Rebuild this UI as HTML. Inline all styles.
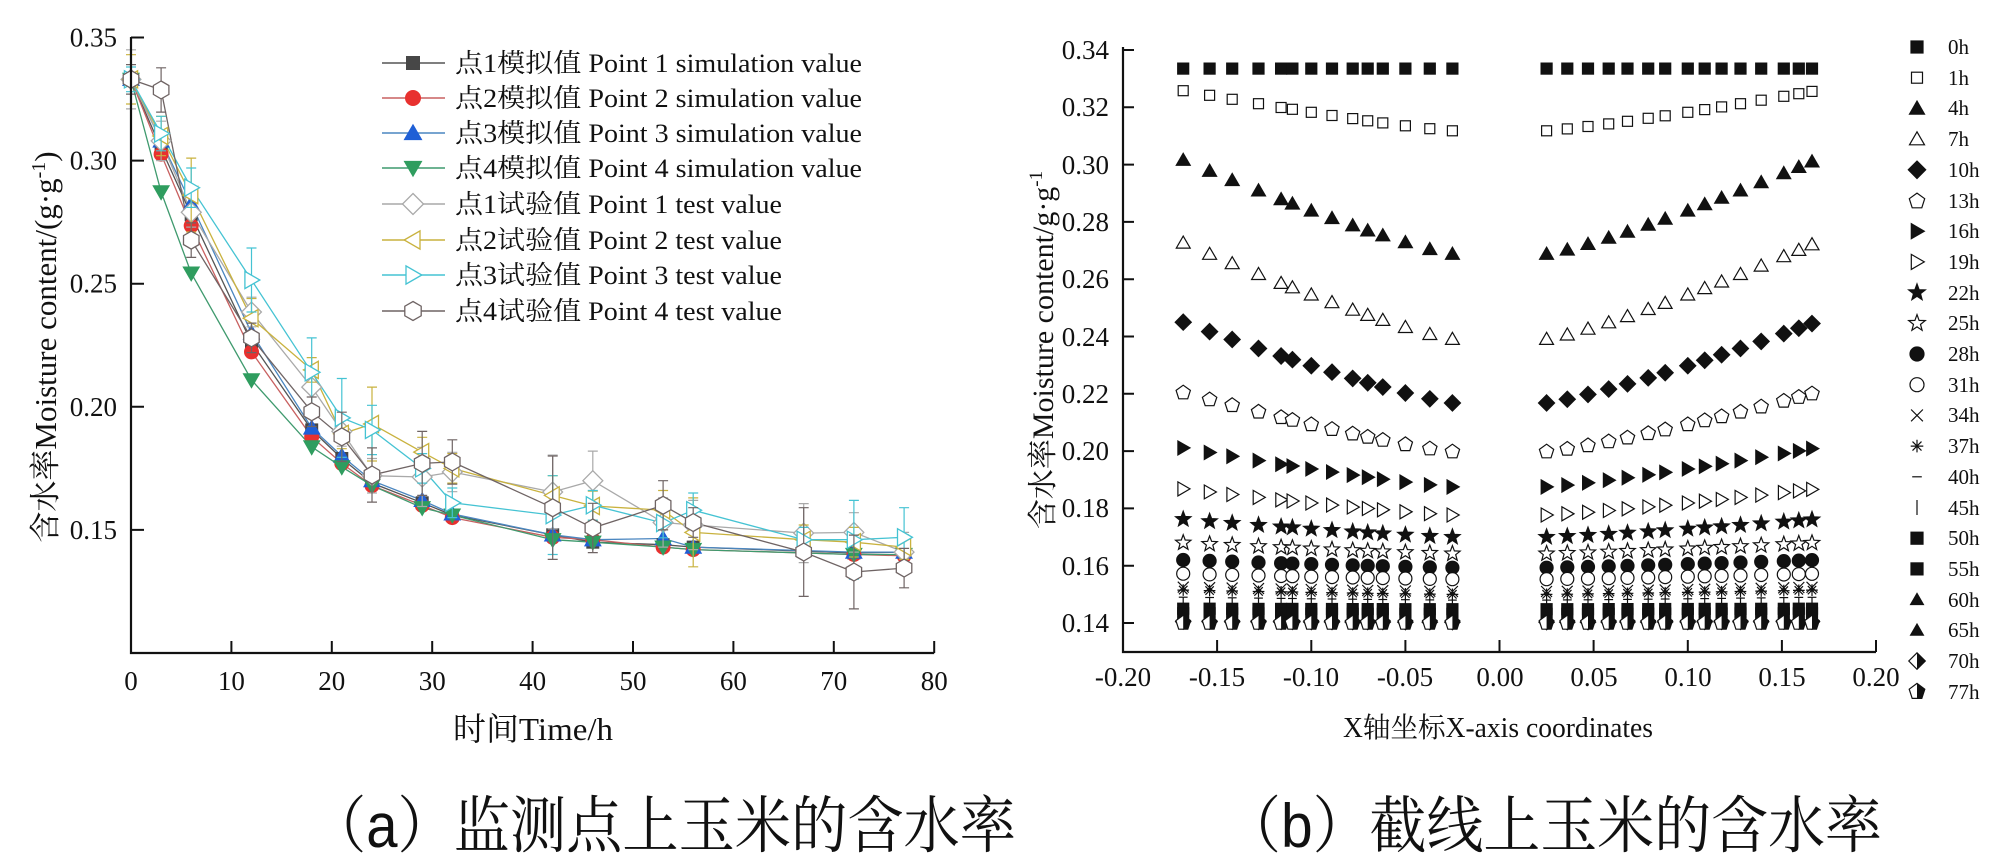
<!DOCTYPE html>
<html><head><meta charset="utf-8">
<style>
html,body{margin:0;padding:0;background:#fff;}
svg{display:block}
text{font-family:"Liberation Serif","Noto Serif CJK SC",serif;fill:#111;}
.cap{font-family:"Liberation Sans","Noto Serif CJK SC",sans-serif;}
</style></head>
<body>
<svg id="c" xmlns="http://www.w3.org/2000/svg" width="2000" height="860" viewBox="0 0 2000 860">
<rect width="2000" height="860" fill="#fff"/>
<g id="plots"></g>

<!-- LEFT CHART AXES -->
<path d="M131 37V653H934.2" fill="none" stroke="#111" stroke-width="2.2"/>
<path d="M131 37.5h13M131 160.6h13M131 283.7h13M131 406.8h13M131 529.9h13" stroke="#111" stroke-width="2"/>
<path d="M231.4 653v-12M331.8 653v-12M432.2 653v-12M532.6 653v-12M633 653v-12M733.4 653v-12M833.8 653v-12M934.2 653v-12" stroke="#111" stroke-width="2"/>
<g font-size="27" text-anchor="end">
<text x="117" y="46.5">0.35</text>
<text x="117" y="169.6">0.30</text>
<text x="117" y="292.7">0.25</text>
<text x="117" y="415.8">0.20</text>
<text x="117" y="538.9">0.15</text>
</g>
<g font-size="27" text-anchor="middle">
<text x="131" y="690">0</text>
<text x="231.4" y="690">10</text>
<text x="331.8" y="690">20</text>
<text x="432.2" y="690">30</text>
<text x="532.6" y="690">40</text>
<text x="633" y="690">50</text>
<text x="733.4" y="690">60</text>
<text x="833.8" y="690">70</text>
<text x="934.2" y="690">80</text>
</g>
<text x="453" y="740" font-size="32" textLength="160" lengthAdjust="spacingAndGlyphs">时间Time/h</text>
<text transform="translate(56,347) rotate(-90)" text-anchor="middle" font-size="31">含水率Moisture content/(g·g<tspan dy="-11" font-size="20">-1</tspan><tspan dy="11">)</tspan></text>

<!-- LEFT LEGEND TEXT -->
<g font-size="26">
<text x="455" y="72" textLength="407" lengthAdjust="spacingAndGlyphs">点1模拟值 Point 1 simulation value</text>
<text x="455" y="107" textLength="407" lengthAdjust="spacingAndGlyphs">点2模拟值 Point 2 simulation value</text>
<text x="455" y="142" textLength="407" lengthAdjust="spacingAndGlyphs">点3模拟值 Point 3 simulation value</text>
<text x="455" y="177" textLength="407" lengthAdjust="spacingAndGlyphs">点4模拟值 Point 4 simulation value</text>
<text x="455" y="213" textLength="327" lengthAdjust="spacingAndGlyphs">点1试验值 Point 1 test value</text>
<text x="455" y="249" textLength="327" lengthAdjust="spacingAndGlyphs">点2试验值 Point 2 test value</text>
<text x="455" y="284" textLength="327" lengthAdjust="spacingAndGlyphs">点3试验值 Point 3 test value</text>
<text x="455" y="320" textLength="327" lengthAdjust="spacingAndGlyphs">点4试验值 Point 4 test value</text>
</g>

<!-- RIGHT CHART AXES -->
<path d="M1123 47V652H1876" fill="none" stroke="#111" stroke-width="2.2"/>
<path d="M1123 50h11M1123 107.3h11M1123 164.6h11M1123 221.9h11M1123 279.2h11M1123 336.5h11M1123 393.8h11M1123 451.1h11M1123 508.4h11M1123 565.7h11M1123 623h11" stroke="#111" stroke-width="2"/>
<path d="M1217.1 652v-12M1311.3 652v-12M1405.4 652v-12M1499.5 652v-12M1593.6 652v-12M1687.8 652v-12M1781.9 652v-12M1876 652v-12" stroke="#111" stroke-width="2"/>
<g font-size="27" text-anchor="end">
<text x="1109" y="59">0.34</text>
<text x="1109" y="116">0.32</text>
<text x="1109" y="174">0.30</text>
<text x="1109" y="231">0.28</text>
<text x="1109" y="288">0.26</text>
<text x="1109" y="346">0.24</text>
<text x="1109" y="403">0.22</text>
<text x="1109" y="460">0.20</text>
<text x="1109" y="517">0.18</text>
<text x="1109" y="575">0.16</text>
<text x="1109" y="632">0.14</text>
</g>
<g font-size="27" text-anchor="middle">
<text x="1123" y="686">-0.20</text>
<text x="1217" y="686">-0.15</text>
<text x="1311" y="686">-0.10</text>
<text x="1405" y="686">-0.05</text>
<text x="1500" y="686">0.00</text>
<text x="1594" y="686">0.05</text>
<text x="1688" y="686">0.10</text>
<text x="1782" y="686">0.15</text>
<text x="1876" y="686">0.20</text>
</g>
<text x="1343" y="737" font-size="28" textLength="310" lengthAdjust="spacingAndGlyphs">X轴坐标X-axis coordinates</text>
<text transform="translate(1053,350) rotate(-90)" text-anchor="middle" font-size="30">含水率Moisture content/g·g<tspan dy="-11" font-size="19">-1</tspan></text>

<!-- RIGHT LEGEND TEXT -->
<g font-size="21">
<text x="1948" y="54">0h</text>
<text x="1948" y="85">1h</text>
<text x="1948" y="115">4h</text>
<text x="1948" y="146">7h</text>
<text x="1948" y="177">10h</text>
<text x="1948" y="208">13h</text>
<text x="1948" y="238">16h</text>
<text x="1948" y="269">19h</text>
<text x="1948" y="300">22h</text>
<text x="1948" y="330">25h</text>
<text x="1948" y="361">28h</text>
<text x="1948" y="392">31h</text>
<text x="1948" y="422">34h</text>
<text x="1948" y="453">37h</text>
<text x="1948" y="484">40h</text>
<text x="1948" y="515">45h</text>
<text x="1948" y="545">50h</text>
<text x="1948" y="576">55h</text>
<text x="1948" y="607">60h</text>
<text x="1948" y="637">65h</text>
<text x="1948" y="668">70h</text>
<text x="1948" y="699">77h</text>
</g>

<!-- CAPTIONS -->
<text class="cap" x="310" y="847" font-size="62" textLength="706" lengthAdjust="spacingAndGlyphs">（a）监测点上玉米的含水率</text>
<text class="cap" x="1224" y="847" font-size="62" textLength="658" lengthAdjust="spacingAndGlyphs">（b）截线上玉米的含水率</text>
</svg>
<script>
(function(){
var SVGNS='http://www.w3.org/2000/svg';
function f(n){return n.toFixed(1);}
function reg(n,x,y,r,rot){var p=[];for(var i=0;i!==n;i++){var a=rot+i*2*Math.PI/n;p.push(f(x+r*Math.sin(a))+','+f(y-r*Math.cos(a)));}return p.join(' ');}
function star(x,y,r){var p=[];for(var i=0;i!==10;i++){var a=i*Math.PI/5;var rr=(i%2)?r*0.42:r;p.push(f(x+rr*Math.sin(a))+','+f(y-rr*Math.cos(a)));}return p.join(' ');}
function mk(type,x,y,s,col,fill,sw){
 sw=sw||1.3; var fl=fill?col:'#fff';
 var st='fill="'+fl+'" stroke="'+col+'" stroke-width="'+sw+'"';
 var ln='stroke="'+col+'" stroke-width="'+sw+'" fill="none"';
 var h,r;
 switch(type){
 case 'sq': return '<rect x="'+f(x-s/2)+'" y="'+f(y-s/2)+'" width="'+s+'" height="'+s+'" '+st+'/>';
 case 'ci': return '<circle cx="'+f(x)+'" cy="'+f(y)+'" r="'+(s/2)+'" '+st+'/>';
 case 'tu': return '<polygon points="'+reg(3,x,y+s*0.1,s*0.62,0)+'" '+st+'/>';
 case 'td': return '<polygon points="'+reg(3,x,y-s*0.1,s*0.62,Math.PI)+'" '+st+'/>';
 case 'tr': return '<polygon points="'+reg(3,x-s*0.1,y,s*0.62,Math.PI/2)+'" '+st+'/>';
 case 'tl': return '<polygon points="'+reg(3,x+s*0.1,y,s*0.62,-Math.PI/2)+'" '+st+'/>';
 case 'di': return '<polygon points="'+reg(4,x,y,s*0.62,0)+'" '+st+'/>';
 case 'pe': return '<polygon points="'+reg(5,x,y+s*0.05,s*0.58,0)+'" '+st+'/>';
 case 'hx': return '<polygon points="'+reg(6,x,y,s*0.56,0)+'" '+st+'/>';
 case 'st': return '<polygon points="'+star(x,y,s*0.62)+'" '+st+'/>';
 case 'x': h=s*0.42; return '<path d="M'+f(x-h)+' '+f(y-h)+'L'+f(x+h)+' '+f(y+h)+'M'+f(x-h)+' '+f(y+h)+'L'+f(x+h)+' '+f(y-h)+'" '+ln+'/>';
 case 'as': h=s*0.45; var d=h*0.72; return '<path d="M'+f(x)+' '+f(y-h)+'V'+f(y+h)+'M'+f(x-d)+' '+f(y-d)+'L'+f(x+d)+' '+f(y+d)+'M'+f(x-d)+' '+f(y+d)+'L'+f(x+d)+' '+f(y-d)+'M'+f(x-h)+' '+f(y)+'H'+f(x+h)+'" '+ln+'/>';
 case 'hd': h=s*0.4; return '<path d="M'+f(x-h)+' '+f(y)+'H'+f(x+h)+'" '+ln+'/>';
 case 'vb': h=s*0.5; return '<path d="M'+f(x)+' '+f(y-h)+'V'+f(y+h)+'" '+ln+'/>';
 case 'hdi': r=s*0.55; return '<polygon points="'+reg(4,x,y,r,0)+'" fill="#fff" stroke="'+col+'" stroke-width="'+sw+'"/><polygon points="'+f(x)+','+f(y-r)+' '+f(x+r)+','+f(y)+' '+f(x)+','+f(y+r)+'" fill="'+col+'"/>';
 case 'hpe': r=s*0.55; var pts=reg(5,x,y,r,0).split(' ');
   return '<polygon points="'+pts.join(' ')+'" fill="#fff" stroke="'+col+'" stroke-width="'+sw+'"/><polygon points="'+f(x)+','+f(y-r)+' '+pts[1]+' '+pts[2]+' '+f(x)+','+f(y+r*0.81)+'" fill="'+col+'"/>';
 }
 return '';
}
var out=[];
/* ---------- LEFT CHART ---------- */
function X(t){return 131+t*10.04;}
function Y(v){return 653-(v-0.10)*2462;}
var T=[0,3,6,12,18,21,24,29,32,42,46,53,56,67,72,77];
var TS=[0,3,6,12,18,21,24,29,32,42,46,53,56,72,77];
var sims=[
 {t:'sq',lc:'#555555',mc:'#474747',s:12,v:[.333,.305,.278,.226,.1906,.179,.169,.161,.156,.148,.145,.144,.143,.1406,.141]},
 {t:'ci',lc:'#c86060',mc:'#e8312f',s:14,v:[.333,.3026,.2735,.2223,.1878,.177,.168,.160,.155,.147,.146,.143,.142,.140,.1395]},
 {t:'tu',lc:'#4a86c0',mc:'#1f5fd6',s:15,v:[.333,.308,.2824,.230,.1914,.180,.170,.162,.1565,.148,.146,.1465,.143,.141,.141]},
 {t:'td',lc:'#3f9a6e',mc:'#2f9d5f',s:15,v:[.333,.2873,.2543,.2109,.1837,.1756,.168,.159,.156,.146,.145,.143,.142,.140,.140]}
];
var tests=[
 {t:'di',c:'#a9a9a9',s:16,v:[.333,.308,.279,.2385,.208,.190,.172,.1715,.1735,.1654,.170,.153,.152,.1487,.149,.141],e:[.012,.008,.006,.006,.008,.006,.007,.012,.008,.015,.012,.01,.01,.012,.008,.008]},
 {t:'tl',c:'#c9b23e',s:16,v:[.333,.31,.286,.236,.215,.189,.193,.1816,.175,.164,.1597,.158,.149,.146,.145,.143],e:[.01,.008,.015,.008,.005,.006,.015,.006,.006,.008,.006,.008,.014,.006,.006,.005]},
 {t:'tr',c:'#45c3d3',s:16,v:[.333,.311,.289,.2515,.214,.1955,.1906,.175,.161,.156,.160,.1528,.158,.146,.146,.147],e:[.005,.007,.008,.013,.014,.016,.01,.006,.006,.016,.006,.006,.007,.005,.016,.012]},
 {t:'hx',c:'#6f6464',s:16,v:[.333,.3287,.2677,.228,.198,.1878,.1723,.177,.1776,.159,.1508,.160,.153,.141,.1329,.1345],e:[.006,.009,.007,.006,.006,.01,.011,.013,.009,.021,.01,.01,.006,.018,.015,.008]}
];
sims.forEach(function(S){
 var p=S.v.map(function(v,i){return f(X(TS[i]))+','+f(Y(v));}).join(' ');
 out.push('<polyline points="'+p+'" fill="none" stroke="'+S.lc+'" stroke-width="1.3"/>');
});
tests.forEach(function(S){
 var p=S.v.map(function(v,i){return f(X(T[i]))+','+f(Y(v));}).join(' ');
 out.push('<polyline points="'+p+'" fill="none" stroke="'+S.c+'" stroke-width="1.3"/>');
});
sims.forEach(function(S){
 S.v.forEach(function(v,i){out.push(mk(S.t,X(TS[i]),Y(v),S.s,S.mc,true,1));});
});
tests.forEach(function(S){
 S.v.forEach(function(v,i){
  var x=X(T[i]),y1=Y(v+S.e[i]),y2=Y(v-S.e[i]);
  out.push('<path d="M'+f(x)+' '+f(y1)+'V'+f(y2)+'M'+f(x-5)+' '+f(y1)+'h10M'+f(x-5)+' '+f(y2)+'h10" stroke="'+S.c+'" stroke-width="1.2" fill="none"/>');
 });
 S.v.forEach(function(v,i){out.push(mk(S.t,X(T[i]),Y(v),S.s,S.c,false,1.3));});
});
/* left legend */
var rows=[63,98,133,168,204,240,275,311];
sims.forEach(function(S,i){
 out.push('<path d="M382 '+rows[i]+'H445" stroke="'+S.lc+'" stroke-width="1.4"/>');
 out.push(mk(S.t,413,rows[i],S.s+1,S.mc,true,1));
});
tests.forEach(function(S,i){
 out.push('<path d="M382 '+rows[i+4]+'H445" stroke="'+S.c+'" stroke-width="1.4"/>');
 out.push(mk(S.t,413,rows[i+4],S.s+1,S.c,false,1.3));
});
/* ---------- RIGHT CHART ---------- */
function RX(x){return 1499.5+x*1882.5;}
function RY(v){return 623-(v-0.14)*2865;}
var XL=[-0.168,-0.154,-0.142,-0.128,-0.116,-0.110,-0.100,-0.089,-0.078,-0.070,-0.062,-0.050,-0.037,-0.025,0.025,0.036,0.047,0.058,0.068,0.079,0.088,0.100,0.109,0.118,0.128,0.139,0.151,0.159,0.166];
var SR=[
['sq',1,.3335,.3335,11],['sq',0,.3258,.3118,10],['tu',1,.3016,.2688,13],['tu',0,.2727,.2391,13],
['di',1,.2450,.2168,13],['pe',0,.2206,.2000,13],['tr',1,.2011,.1875,13],['tr',0,.1868,.1777,13],
['st',1,.1762,.1700,13],['st',0,.1680,.1642,13],['ci',1,.1620,.1593,13],['ci',0,.1572,.1553,13],
['x',0,.1525,.1510,13],['as',0,.1515,.1500,13],['hd',0,.1490,.1480,11],['vb',0,.1465,.1460,14],
['sq',1,.1450,.1448,11],['sq',1,.1434,.1432,11],['tu',1,.1425,.1422,11],['tu',1,.1418,.1416,11],
['hdi',0,.1405,.1403,14],['hpe',0,.1400,.1400,14]
];
SR.forEach(function(S){
 XL.forEach(function(x){
  var t=(Math.abs(x)-0.025)/0.143; if(t<0)t=0;
  var v=S[3]+(S[2]-S[3])*Math.pow(t,1.2);
  out.push(mk(S[0],RX(x),RY(v),S[4],'#111',!!S[1],1.2));
 });
});
SR.forEach(function(S,i){
 out.push(mk(S[0],1917,47+i*30.7,S[4]+1,'#111',!!S[1],1.2));
});
var g=document.getElementById('plots');
var tmp=new DOMParser().parseFromString('<svg xmlns="'+SVGNS+'">'+out.join('')+'</svg>','image/svg+xml');
var root=tmp.documentElement;
while(root.firstChild){g.appendChild(document.importNode(root.firstChild,true));root.removeChild(root.firstChild);}
})();
</script>
</body></html>
